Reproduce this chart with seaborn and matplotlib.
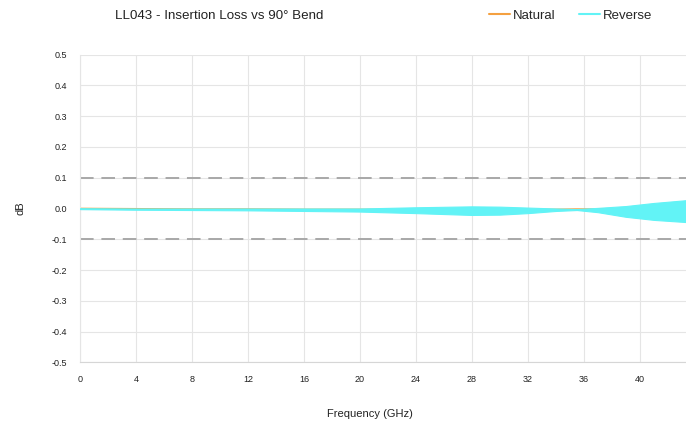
import numpy as np
import pandas as pd
import matplotlib.pyplot as plt
import seaborn as sns
from matplotlib.lines import Line2D

# Data
freq_ghz = [0, 4, 8, 12, 16, 20, 24, 28, 30, 32, 34, 35.5, 37, 39, 41, 43.3]
natural_db = [0.0, -0.001, -0.002, -0.002, -0.003, -0.003, -0.004, -0.004,
              -0.004, -0.004, -0.003, -0.002, -0.002, -0.003, -0.004, -0.005]
reverse_upper = [0.001, 0.0, 0.0, 0.0, 0.0, 0.0, 0.004, 0.007,
                 0.006, 0.003, 0.0, -0.002, 0.002, 0.008, 0.018, 0.027]
reverse_lower = [-0.002, -0.004, -0.005, -0.006, -0.008, -0.010, -0.015, -0.021,
                 -0.020, -0.015, -0.008, -0.005, -0.012, -0.027, -0.037, -0.044]
limit_db = [0.1, -0.1]
x_ticks = [0, 4, 8, 12, 16, 20, 24, 28, 32, 36, 40]
y_ticks = [-0.5, -0.4, -0.3, -0.2, -0.1, 0.0, 0.1, 0.2, 0.3, 0.4, 0.5]

df = pd.DataFrame({'Frequency': freq_ghz, 'Natural': natural_db,
                   'Upper': reverse_upper, 'Lower': reverse_lower})

sns.set_theme(style="white")
plt.rcParams['font.family'] = ['Liberation Sans', 'DejaVu Sans']

orange = '#F4A040'
cyan = '#62F3F6'

fig = plt.figure(figsize=(6.86, 4.21), dpi=100)
ax = fig.add_axes([0.1166, 0.139, 0.8834, 0.7315])

# light grid
for t in x_ticks:
    ax.axvline(t, color='#e5e5e5', linewidth=0.8, zorder=0)
for t in y_ticks:
    ax.axhline(t, color='#e5e5e5', linewidth=0.8, zorder=0)

# tolerance lines
for lim in limit_db:
    ax.axhline(lim, color='#a8a8a8', linewidth=1.4, dashes=(7, 4), zorder=1)

sns.lineplot(data=df, x='Frequency', y='Natural', ax=ax, color=orange,
             linewidth=1.2, zorder=2)
ax.fill_between(df['Frequency'], df['Lower'], df['Upper'], color=cyan,
                linewidth=0.8, edgecolor=cyan, zorder=3)

ax.set_xlim(0, 43.3)
ax.set_ylim(-0.5, 0.5)
ax.set_xticks(x_ticks)
ax.set_yticks(y_ticks)
ax.set_yticklabels([f'{v:.1f}' for v in y_ticks])
ax.tick_params(axis='both', labelsize=6.5, length=0, pad=9, colors='#222222')
for side in ['top', 'right']:
    ax.spines[side].set_visible(False)
ax.spines['left'].set_color('#e5e5e5')
ax.spines['bottom'].set_color('#d6d6d6')
ax.spines['left'].set_linewidth(0.8)
ax.spines['bottom'].set_linewidth(0.8)

ax.set_xlabel('Frequency (GHz)', fontsize=8, color='#222222')
ax.xaxis.set_label_coords(0.479, -0.15)
ax.set_ylabel('dB', fontsize=8, labelpad=19, color='#222222')

fig.text(0.168, 0.962, 'LL043 - Insertion Loss vs 90° Bend', fontsize=9.6,
         ha='left', va='center', color='#222222')

handles = [Line2D([0], [0], color=orange, linewidth=1.5),
           Line2D([0], [0], color=cyan, linewidth=1.5)]
fig.legend(handles, ['Natural', 'Reverse'], loc='center',
           bbox_to_anchor=(0.832, 0.962), ncol=2, frameon=False,
           handlelength=1.6, handletextpad=0.2, columnspacing=1.8,
           prop={'size': 9.5})

plt.savefig('out.png', dpi=100)
plt.close()
